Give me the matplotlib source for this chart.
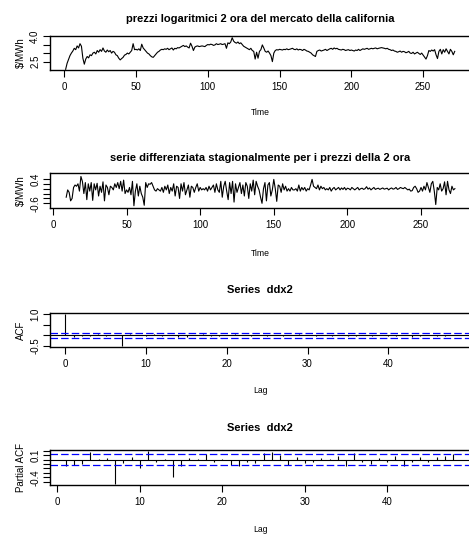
import matplotlib
matplotlib.use("Agg")
import matplotlib.pyplot as plt
import numpy as np

plt.rcParams['font.family'] = ['Liberation Sans', 'DejaVu Sans']

# ---------------- data ----------------
title1 = "prezzi logaritmici 2 ora del mercato della california"
title2 = "serie differenziata stagionalmente per i prezzi della 2 ora"
title_acf = "Series  ddx2"

log_prices = [
    2.05, 2.40, 2.62, 2.85, 3.00, 3.12, 3.28, 3.20, 3.42, 3.30,
    3.55, 3.40, 2.70, 2.35, 2.65, 2.80, 2.72, 2.90, 2.85, 3.00,
    3.05, 2.95, 3.15, 3.05, 3.20, 3.10, 3.30, 3.12, 3.05, 3.18,
    3.08, 3.15, 3.00, 3.10, 3.05, 2.90, 2.85, 2.70, 2.60, 2.68,
    2.75, 2.88, 2.92, 3.00, 2.95, 3.05, 3.15, 3.55, 3.20, 3.22,
    3.18, 3.25, 3.15, 3.52, 3.30, 3.20, 3.10, 3.00, 2.95, 2.85,
    2.78, 2.75, 2.85, 2.95, 3.05, 3.10, 3.18, 3.22, 3.20, 3.25,
    3.22, 3.28, 3.20, 3.25, 3.30, 3.18, 3.28, 3.25, 3.32, 3.30,
    3.35, 3.40, 3.45, 3.38, 3.42, 3.35, 3.30, 3.58, 3.40, 3.15,
    3.35, 3.40, 3.42, 3.38, 3.40, 3.42, 3.40, 3.38, 3.45, 3.50,
    3.48, 3.52, 3.50, 3.45, 3.48, 3.55, 3.50, 3.52, 3.55, 3.50,
    3.52, 3.55, 3.28, 3.60, 3.55, 3.65, 3.90, 3.70, 3.62, 3.58,
    3.65, 3.55, 3.60, 3.50, 3.40, 3.35, 3.30, 3.25, 3.20, 3.28,
    3.15, 3.10, 2.65, 3.05, 2.70, 3.10, 3.20, 3.48, 3.30, 3.10,
    3.05, 3.12, 3.00, 2.85, 2.50, 3.00, 3.15, 3.20, 3.18, 3.22,
    3.20, 3.18, 3.22, 3.20, 3.25, 3.20, 3.22, 3.25, 3.28, 3.22,
    3.20, 3.25, 3.18, 3.22, 3.20, 3.15, 3.22, 3.18, 3.12, 3.10,
    3.05, 3.00, 2.90, 2.85, 2.80, 3.10, 3.15, 3.18, 3.12, 3.15,
    3.18, 3.22, 3.15, 3.20, 3.25, 3.28, 3.22, 3.30, 3.25, 3.28,
    3.22, 3.20, 3.18, 3.22, 3.20, 3.15, 3.18, 3.20, 3.15, 3.18,
    3.15, 3.12, 3.18, 3.15, 3.22, 3.15, 3.20, 3.25, 3.22, 3.25,
    3.28, 3.22, 3.25, 3.28, 3.25, 3.28, 3.30, 3.25, 3.28, 3.30,
    3.32, 3.30, 3.28, 3.25, 3.28, 3.22, 3.20, 3.15, 3.18, 3.12,
    3.10, 3.05, 3.08, 3.12, 3.05, 3.10, 3.08, 3.02, 3.05, 3.10,
    3.00, 2.98, 3.05, 2.95, 3.00, 3.05, 2.98, 2.92, 3.00, 2.88,
    2.75, 2.65, 2.85, 3.15, 3.10, 3.18, 3.12, 3.20, 2.90, 2.68,
    3.10, 3.22, 2.95, 3.20, 3.05, 3.25, 3.10, 2.95, 3.22, 3.10, 2.90, 3.10,
]
time1_start = 1

diff_series = [
    -0.35, -0.05, -0.15, -0.50, -0.40, 0.05, 0.15, 0.10, 0.20, -0.10, 0.50, 0.30,
    -0.20, 0.25, -0.45, 0.20, -0.10, 0.25, -0.48, 0.20, -0.05, 0.22,
    -0.30, 0.10, -0.15, 0.28, -0.50, 0.15, 0.05, -0.25, 0.10, 0.05,
    -0.05, 0.20, 0.05, 0.25, 0.00, 0.30, -0.10, 0.35, -0.20, -0.05,
    -0.15, 0.05, -0.25, 0.30, -0.70, -0.10, 0.20, -0.30, 0.10, -0.20,
    -0.35, -0.68, 0.25, 0.05, 0.20, 0.18, 0.25, 0.10, -0.05, -0.10,
    0.00, -0.05, -0.10, 0.05, -0.15, 0.10, -0.05, 0.15, -0.20, 0.05,
    -0.10, 0.20, -0.30, 0.10, 0.05, -0.40, 0.20, -0.10, 0.25, -0.25,
    -0.05, 0.15, -0.35, 0.10, 0.05, -0.15, 0.05, 0.20, -0.10, 0.05,
    -0.05, 0.00, -0.05, 0.05, -0.10, 0.10, -0.05, 0.05, 0.15, -0.15,
    0.20, -0.05, -0.15, 0.30, -0.35, 0.10, 0.30, -0.10, -0.45, 0.25,
    -0.20, 0.30, -0.55, 0.20, -0.15, 0.05, 0.25, -0.20, 0.15, -0.30,
    0.25, 0.10, -0.40, 0.20, -0.10, 0.35, -0.25, 0.30, 0.10, -0.05,
    -0.35, -0.60, 0.00, 0.25, -0.50, 0.15, 0.25, -0.30, -0.05, 0.38,
    0.00, -0.52, 0.15, 0.10, -0.15, 0.20, -0.05, 0.10, -0.10, 0.00,
    -0.10, 0.05, -0.05, -0.05, 0.00, -0.10, 0.15, -0.10, 0.05, -0.05,
    0.05, -0.10, 0.00, -0.05, 0.15, 0.38, 0.10, 0.05, 0.00, 0.15,
    -0.05, 0.10, 0.00, 0.05, -0.05, 0.00, -0.05, 0.05, -0.10, 0.00,
    0.05, -0.05, 0.00, 0.05, -0.05, 0.03, -0.03, 0.05, -0.05, 0.02,
    0.00, -0.05, 0.05, 0.00, -0.05, 0.00, 0.05, -0.05, 0.00, 0.02,
    -0.03, 0.00, 0.08, -0.02, 0.03, -0.05, 0.00, 0.05, -0.03, 0.00,
    0.02, -0.03, 0.00, 0.03, -0.02, 0.00, 0.02, -0.05, 0.00, 0.03,
    -0.02, 0.00, 0.05, -0.03, 0.00, 0.05, 0.02, 0.00, 0.05, 0.00,
    -0.05, -0.02, -0.10, -0.08, 0.05, 0.10, 0.00, -0.15, -0.10, 0.05,
    -0.10, 0.10, -0.05, 0.25, 0.05, -0.15, 0.20, 0.30, -0.10, -0.65,
    0.05, -0.05, 0.20, -0.10, 0.00, 0.28, -0.25, 0.30, -0.05, -0.20, 0.10, -0.05, 0.00,
]
time2_start = 9

acf_vals = [
    1.00, -0.08, -0.05, -0.05, 0.05, -0.03, 0.02, -0.50, 0.05, 0.03,
    -0.05, 0.04, -0.03, 0.02, -0.08, -0.06, 0.03, 0.07, -0.04, -0.03,
    0.03, 0.06, 0.03, -0.05, 0.02, -0.03, 0.02, -0.02, 0.03, 0.08,
    0.03, -0.04, 0.03, -0.03, 0.02, -0.03, -0.05, 0.03, -0.02, 0.03,
    -0.05, -0.04, 0.02, -0.06, -0.03, 0.02, -0.02, -0.03, 0.02,
]
pacf_vals = [
    -0.15, -0.12, -0.09, 0.18, 0.02, 0.04, -0.56, -0.08, 0.06, -0.19,
    0.20, -0.05, 0.02, -0.40, -0.15, 0.04, 0.02, 0.12, -0.05, 0.02,
    -0.13, -0.15, -0.05, -0.07, 0.15, 0.18, 0.10, -0.13, 0.06, -0.07,
    -0.05, 0.04, 0.02, 0.08, -0.15, 0.14, -0.05, -0.09, 0.04, -0.05,
    0.08, -0.15, -0.05, 0.05, -0.05, 0.06, 0.08, 0.12,
]
conf_band = 0.12

# ---------------- layout ----------------
W, H = 469, 540
fig = plt.figure(figsize=(W / 100, H / 100), dpi=100)

def px_axes(left, top, right, bottom):
    return fig.add_axes([left / W, 1 - bottom / H, (right - left) / W, (bottom - top) / H])

TS = 7.0
XL = 6.2
YL = 7.0
TT = 8.0
DASH = (0, (6, 2.5))

def style(ax):
    for s in ax.spines.values():
        s.set_linewidth(1.0)
        s.set_color('black')
    ax.tick_params(axis='both', length=5, width=0.8, labelsize=TS, direction='out')
    ax.tick_params(axis='x', pad=3.5)
    ax.tick_params(axis='y', pad=2)

def sparse_labels(ax, ticks, shown, fmt):
    ax.set_yticks(ticks)
    ax.set_yticklabels([fmt.format(t) if any(abs(t - s) < 1e-9 for s in shown) else '' for t in ticks],
                       rotation=90, va='center')

# Panel 1
t1 = np.arange(time1_start, time1_start + len(log_prices))
ax1 = px_axes(50, 36, 470.5, 70)
ax1.plot(t1, log_prices, color='black', lw=0.8)
ax1.set_xlim(-9.9, 283.0)
ax1.set_ylim(2.01, 4.0)
ax1.set_xticks([0, 50, 100, 150, 200, 250])
sparse_labels(ax1, [2.5, 3.0, 3.5, 4.0], [2.5, 4.0], "{:.1f}")
style(ax1)
ax1.set_title(title1, fontsize=TT, fontweight='bold', pad=10)
ax1.set_xlabel("Time", fontsize=XL, labelpad=12)
ax1.set_ylabel("$/MWh", fontsize=YL, labelpad=3)

# Panel 2
t2 = np.arange(time2_start, time2_start + len(diff_series))
ax2 = px_axes(50, 173.3, 470.5, 207.7)
ax2.plot(t2, diff_series, color='black', lw=0.8)
ax2.set_xlim(-2.0, 283.6)
ax2.set_ylim(-0.78, 0.63)
ax2.set_xticks([0, 50, 100, 150, 200, 250])
sparse_labels(ax2, [-0.6, -0.4, -0.2, 0.0, 0.2, 0.4], [-0.6, 0.4], "{:.1f}")
style(ax2)
ax2.set_title(title2, fontsize=TT, fontweight='bold', pad=9)
ax2.set_xlabel("Time", fontsize=XL, labelpad=14)
ax2.set_ylabel("$/MWh", fontsize=YL, labelpad=3)

# Panel 3 ACF
lags = np.arange(len(acf_vals))
ax3 = px_axes(50, 312.7, 470.5, 347.3)
ax3.vlines(lags, 0, acf_vals, color='black', lw=0.8)
ax3.axhline(0, color='black', lw=0.8)
ax3.axhline(conf_band, color='blue', lw=0.9, ls=DASH)
ax3.axhline(-conf_band, color='blue', lw=0.9, ls=DASH)
ax3.set_xlim(-1.92, 50.2)
ax3.set_ylim(-0.56, 1.06)
ax3.set_xticks([0, 10, 20, 30, 40])
sparse_labels(ax3, [-0.5, 0.0, 0.5, 1.0], [-0.5, 1.0], "{:.1f}")
style(ax3)
ax3.set_title(title_acf, fontsize=TT, fontweight='bold', pad=14)
ax3.set_xlabel("Lag", fontsize=XL, labelpad=12)
ax3.set_ylabel("ACF", fontsize=YL, labelpad=3)

# Panel 4 PACF
plags = np.arange(1, len(pacf_vals) + 1)
ax4 = px_axes(50, 450.3, 470.5, 485.3)
ax4.vlines(plags, 0, pacf_vals, color='black', lw=0.8)
ax4.axhline(0, color='black', lw=0.8)
ax4.axhline(conf_band, color='blue', lw=0.9, ls=DASH)
ax4.axhline(-conf_band, color='blue', lw=0.9, ls=DASH)
ax4.set_xlim(-0.9, 50.1)
ax4.set_ylim(-0.58, 0.21)
ax4.set_xticks([0, 10, 20, 30, 40])
sparse_labels(ax4, [-0.5, -0.4, -0.3, -0.2, -0.1, 0.0, 0.1, 0.2], [-0.4, 0.1], "{:.1f}")
style(ax4)
ax4.set_title(title_acf, fontsize=TT, fontweight='bold', pad=14)
ax4.set_xlabel("Lag", fontsize=XL, labelpad=13)
ax4.set_ylabel("Partial ACF", fontsize=YL, labelpad=3)

fig.savefig("out.png", dpi=100)
